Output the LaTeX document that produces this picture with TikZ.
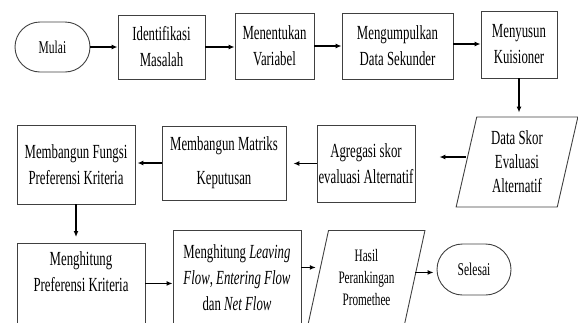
\documentclass[tikz,border=0pt]{standalone}
\usepackage{fontspec}
\newfontfamily\flowfamily[FakeStretch=0.64]{Liberation Serif}
\usetikzlibrary{arrows.meta, positioning, calc, shapes.geometric, shapes.misc}
\tikzset{
    box/.style={draw=black!75, line width=0.9pt, rectangle, align=center, inner sep=0pt,
        font=\flowfamily\fontsize{20}{26}\selectfont},
    term/.style={draw=black!75, line width=0.9pt, rounded rectangle, align=center, inner sep=0pt,
        font=\flowfamily\fontsize{18}{22}\selectfont},
    io/.style={draw=black!75, line width=0.9pt, trapezium, trapezium stretches=true,
        align=center, inner sep=0pt, font=\flowfamily\fontsize{20}{24}\selectfont},
    flow/.style={-{Latex[length=6pt,width=5pt]}, line width=1.3pt}
}
\begin{document}
\begin{tikzpicture}[x=1pt, y=-1pt]
    \useasboundingbox (0,0) rectangle (578,322);
    \clip (0,0) rectangle (578,322);
    % First row
    \node[term, minimum width=75pt, minimum height=50pt] (mulai) at (52.5,47) {Mulai};
    \node[box, minimum width=87pt, minimum height=64pt] (ident) at (161.5,47) {Identifikasi\\Masalah};
    \node[box, minimum width=79pt, minimum height=66pt] (tentu) at (274.5,46) {Menentukan\\Variabel};
    \node[box, minimum width=111pt, minimum height=66pt] (kumpul) at (397.5,46) {Mengumpulkan\\Data Sekunder};
    \node[box, minimum width=76pt, minimum height=67pt] (susun) at (519,44.5) {Menyusun\\Kuisioner};
    % Second row
    \node[io, trapezium left angle=78, trapezium right angle=102,
        minimum width=122pt, minimum height=90pt] (dataskor) at (517,162) {Data Skor\\Evaluasi\\Alternatif};
    \node[box, minimum width=98pt, minimum height=77pt] (agregasi) at (366,163.5) {Agregasi skor\\evaluasi Alternatif};
    \node[box, minimum width=124pt, minimum height=74pt] (matriks) at (224,163) {Membangun Matriks\\[8pt]Keputusan};
    \node[box, minimum width=118pt, minimum height=79pt] (fungsi) at (76,164.5) {Membangun Fungsi\\Preferensi Kriteria};
    % Third row
    \node[box, minimum width=128pt, minimum height=80pt, anchor=north] (pref) at (81,243) {};
    \node[box, draw=none] (prefteks) at (81,272) {Menghitung\\Preferensi Kriteria};
    \node[box, minimum width=128pt, minimum height=94pt, anchor=north] (leav) at (237,230)
        {Menghitung \textit{Leaving}\\\textit{Flow}, \textit{Entering Flow}\\dan \textit{Net Flow}};
    \node[io, trapezium left angle=75, trapezium right angle=105,
        minimum width=117pt, minimum height=94pt, anchor=north,
        font=\flowfamily\fontsize{17.5}{22}\selectfont] (hasil) at (366.5,230) {Hasil\\Perankingan\\Promethee};
    \node[term, minimum width=74pt, minimum height=51pt] (selesai) at (474,269.5) {Selesai};
    % Arrows
    \draw[flow] (mulai.east) -- (mulai.east -| ident.west);
    \draw[flow] (ident.east) -- (ident.east -| tentu.west);
    \draw[flow] (tentu.east) -- (tentu.east -| kumpul.west);
    \draw[flow] ([yshift=2pt]kumpul.east) -- ([yshift=2pt]kumpul.east -| susun.west);
    \draw[flow, shorten >=4pt] (susun.south) -- (susun.south |- dataskor.north);
    \draw[flow, shorten >=24pt] ([yshift=5pt]dataskor.west) -- ([yshift=5pt]dataskor.west -| agregasi.east);
    \draw[flow, shorten >=7pt] (agregasi.west) -- (agregasi.west -| matriks.east);
    \draw[flow, shorten >=2pt] (matriks.west) -- (matriks.west -| fungsi.east);
    \draw[flow, shorten >=6pt] (fungsi.south) -- (fungsi.south |- pref.north);
    \draw[flow] (pref.east) -- (pref.east -| leav.west);
    \draw[flow, shorten >=2pt] ([yshift=10pt]leav.east) -- ([yshift=10pt]leav.east -| hasil.west);
    \draw[flow, shorten >=3pt] ([yshift=5pt]hasil.east) -- ([yshift=5pt]hasil.east -| selesai.west);
\end{tikzpicture}
\end{document}
